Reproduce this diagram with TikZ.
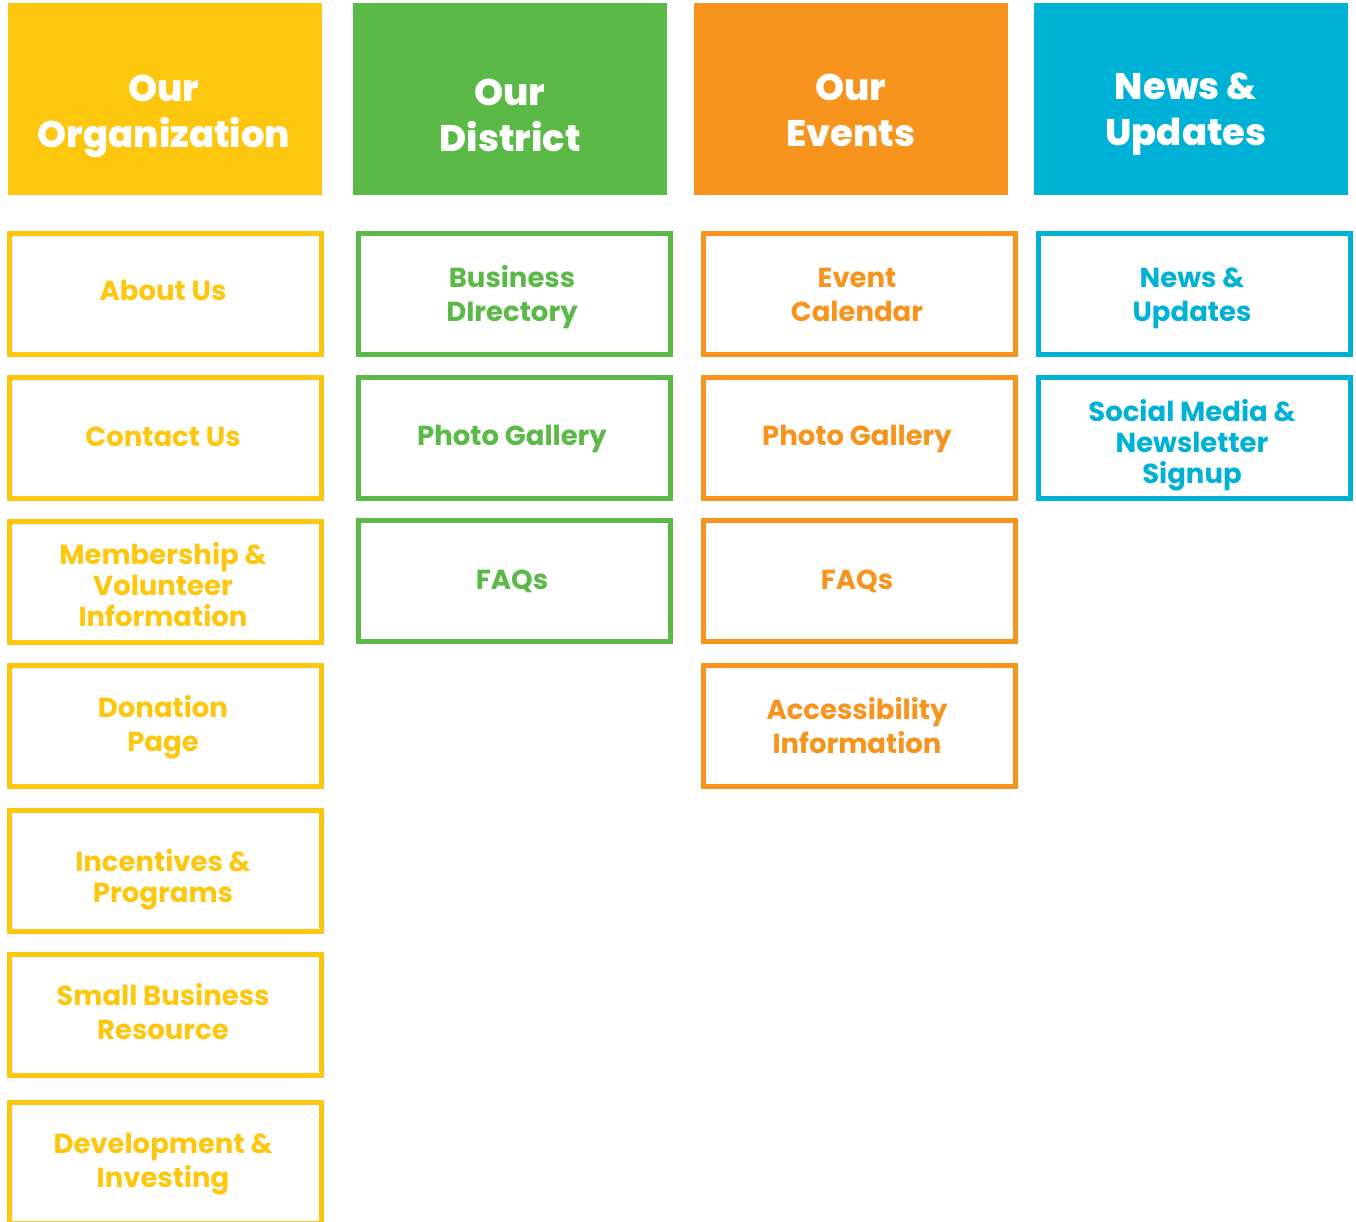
\documentclass[tikz,border=0pt]{standalone}
\usepackage{fontspec}
\setmainfont{Poppins}
\newfontfamily\hfont{Poppins ExtraBold}
\definecolor{cyel}{HTML}{FEC70F}
\definecolor{cgrn}{HTML}{5AB947}
\definecolor{corg}{HTML}{F7941E}
\definecolor{cblu}{HTML}{00B1D6}
\begin{document}
\begin{tikzpicture}[x=1pt,y=-1pt,
  hdr/.style={fill=#1, draw=none, minimum width=314pt, minimum height=192pt, inner sep=0pt},
  hdrtext/.style={text=white, align=center, font=\hfont\fontsize{37}{46}\selectfont, inner sep=0pt},
  item/.style={draw=#1, line width=5pt, fill=white, minimum width=312pt, minimum height=121pt, inner sep=0pt},
  itxt/.style={text=#1, align=center, inner sep=0pt, font=\bfseries\fontsize{27.5}{34}\selectfont},
  itxtb/.style={text=#1, align=center, inner sep=0pt, font=\bfseries\fontsize{27.5}{31}\selectfont}]
\useasboundingbox (0,0) rectangle (1356,1222);
% headers
\node[hdr=cyel, anchor=north west] (h1) at (8,3) {};
\node[hdr=cgrn, anchor=north west] (h2) at (353,3) {};
\node[hdr=corg, anchor=north west] (h3) at (694,3) {};
\node[hdr=cblu, anchor=north west] (h4) at (1034,3) {};
\node[hdrtext] (t1) at (164,116) {Our\\Organization};
\node[hdrtext] (t2) at (510,115) {Our\\District};
\node[hdrtext] (t3) at (851,110.5) {Our\\Events};
\node[hdrtext] (t4) at (1186,114) {News \&\\Updates};
% column 1 boxes
\node[item=cyel] (a1) at (165.5,294) {};
\node[item=cyel] (a2) at (165.5,437.5) {};
\node[item=cyel] (a3) at (165.5,582) {};
\node[item=cyel] (a4) at (165.5,726) {};
\node[item=cyel] (a5) at (165.5,870.5) {};
\node[item=cyel] (a6) at (165.5,1014.5) {};
\node[item=cyel] (a7) at (165.5,1163) {};
% column 2 boxes
\node[item=cgrn] (b1) at (514,294) {};
\node[item=cgrn] (b2) at (514,437.5) {};
\node[item=cgrn] (b3) at (514,580.5) {};
% column 3 boxes
\node[item=corg] (c1) at (859,294) {};
\node[item=corg] (c2) at (859,437.5) {};
\node[item=corg] (c3) at (859,580.5) {};
\node[item=corg] (c4) at (859,726) {};
% column 4 boxes
\node[item=cblu] (d1) at (1194.5,294) {};
\node[item=cblu] (d2) at (1194.5,437.5) {};
% texts
\node[itxt=cyel] (la1) at (163,290) {About Us};
\node[itxt=cyel] (la2) at (163,437) {Contact Us};
\node[itxtb=cyel] (la3) at (163,585) {Membership \&\\Volunteer\\Information};
\node[itxt=cyel] (la4) at (163,727) {Donation\\Page};
\node[itxtb=cyel] (la5) at (163,880) {Incentives \&\\Programs};
\node[itxt=cyel] (la6) at (163,1012) {Small Business\\Resource};
\node[itxt=cyel] (la7) at (163,1164) {Development \&\\Investing};
\node[itxt=cgrn] (lb1) at (512,297) {Business\\DIrectory};
\node[itxt=cgrn] (lb2) at (512,439) {Photo Gallery};
\node[itxt=cgrn] (lb3) at (512,581) {FAQs};
\node[itxt=corg] (lc1) at (857,295) {Event\\Calendar};
\node[itxt=corg] (lc2) at (857,439) {Photo Gallery};
\node[itxt=corg] (lc3) at (857,581) {FAQs};
\node[itxt=corg] (lc4) at (857,726) {Accessibility\\Information};
\node[itxt=cblu] (ld1) at (1192,298) {News \&\\Updates};
\node[itxtb=cblu] (ld2) at (1192,445) {Social Media \&\\Newsletter\\Signup};
\end{tikzpicture}
\end{document}
